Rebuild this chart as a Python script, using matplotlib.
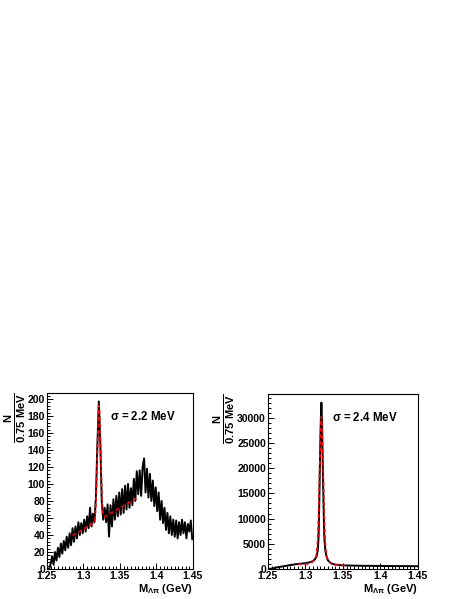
import numpy as np
import matplotlib
matplotlib.use('Agg')
import matplotlib.pyplot as plt
from matplotlib.ticker import MultipleLocator

plt.rcParams['font.family'] = ['Liberation Sans', 'DejaVu Sans']
plt.rcParams['font.weight'] = 'bold'
plt.rcParams['mathtext.fontset'] = 'custom'
plt.rcParams['mathtext.rm'] = 'Liberation Sans:bold'
plt.rcParams['mathtext.bf'] = 'Liberation Sans:bold'
plt.rcParams['mathtext.it'] = 'Liberation Sans:bold'

# left panel: histogram, 2 MeV steps
left_start = 1.251
left_step = 0.002
left_counts = [0, 0, 6, 15, 5, 20, 10, 25, 14, 30,
               18, 33, 22, 38, 25, 42, 28, 48, 32, 50,
               36, 55, 40, 54, 42, 58, 44, 62, 48, 72,
               50, 65, 55, 85, 145, 197, 150, 80, 58, 72,
               55, 76, 38, 75, 50, 82, 58, 86, 62, 90,
               64, 94, 66, 98, 70, 100, 72, 95, 75, 106,
               80, 115, 88, 116, 86, 120, 130, 90, 118, 84,
               112, 80, 104, 74, 96, 68, 90, 58, 80, 54,
               72, 46, 66, 42, 62, 40, 58, 38, 57, 36,
               55, 40, 58, 42, 55, 36, 53, 44, 57, 35]

# left fit: gaussian + linear background
left_fit_range = (1.285, 1.375)
left_mean, left_sigma, left_amp = 1.3212, 0.0022, 135.0
left_bg0, left_bg_slope = 62.0, 500.0   # bg = bg0 + slope*(m - 1.33)

# right panel: high-statistics spectrum
right_mass = [1.250, 1.255, 1.260, 1.265, 1.270, 1.275, 1.280, 1.285, 1.290, 1.295,
              1.300, 1.305, 1.310, 1.3125, 1.3150, 1.3165, 1.3175, 1.3185, 1.3195, 1.3205,
              1.3212, 1.3220, 1.3230, 1.3240, 1.3250, 1.3265, 1.3280, 1.3300, 1.3330, 1.3360,
              1.340, 1.345, 1.350, 1.360, 1.370, 1.380, 1.390, 1.400, 1.420, 1.440, 1.450]
right_counts = [0, 80, 250, 400, 520, 650, 780, 900, 1000, 1080,
                1150, 1300, 1550, 1900, 2600, 3800, 6500, 14000, 23000, 30000,
                33000, 29500, 21000, 13000, 6500, 3600, 2500, 1700, 1250, 1000,
                880, 780, 720, 680, 650, 630, 620, 600, 580, 560, 550]

# right fit: core gaussian + wide gaussian + linear background
right_fit_range = (1.29, 1.355)
right_mean, right_sigma, right_amp = 1.3212, 0.0024, 27150.0
right_wide_sigma, right_wide_amp = 0.007, 2200.0
right_bg0, right_bg_slope = 856.0, -4600.0   # bg = bg0 + slope*(m - 1.3212)

fig = plt.figure(figsize=(4.63, 5.99), dpi=100)
ax1 = fig.add_axes([0.1015, 0.0501, 0.3153, 0.2938])
ax2 = fig.add_axes([0.5788, 0.0501, 0.3240, 0.2921])

# left
centers = left_start + left_step * np.arange(len(left_counts))
ax1.plot(centers, left_counts, color='black', lw=1.4)
m = np.linspace(left_fit_range[0], left_fit_range[1], 400)
fit = left_bg0 + left_bg_slope * (m - 1.33) + left_amp * np.exp(-0.5 * ((m - left_mean) / left_sigma) ** 2)
ax1.plot(m, fit, color='red', lw=1.2, ls=(0, (2.5, 1.5)))
ax1.set_ylim(0, 207)
ax1.yaxis.set_major_locator(MultipleLocator(20))
ax1.yaxis.set_minor_locator(MultipleLocator(4))
ax1.text(0.434, 0.865, r'$\sigma$ = 2.2 MeV', transform=ax1.transAxes,
         fontsize=8.3, fontweight='bold', va='center', ha='left')

# right
ax2.plot(right_mass, right_counts, color='black', lw=1.4)
m = np.linspace(right_fit_range[0], right_fit_range[1], 400)
fit = (right_bg0 + right_bg_slope * (m - right_mean)
       + right_amp * np.exp(-0.5 * ((m - right_mean) / right_sigma) ** 2)
       + right_wide_amp * np.exp(-0.5 * ((m - right_mean) / right_wide_sigma) ** 2))
ax2.plot(m, fit, color='red', lw=1.2, ls=(0, (2.5, 1.5)))
ax2.set_ylim(0, 34700)
ax2.yaxis.set_major_locator(MultipleLocator(5000))
ax2.yaxis.set_minor_locator(MultipleLocator(1000))
ax2.text(0.425, 0.865, r'$\sigma$ = 2.4 MeV', transform=ax2.transAxes,
         fontsize=8.3, fontweight='bold', va='center', ha='left')

for ax in (ax1, ax2):
    ax.set_xlim(1.25, 1.45)
    ax.set_xticks([1.25, 1.3, 1.35, 1.4, 1.45])
    ax.set_xticklabels(['1.25', '1.3', '1.35', '1.4', '1.45'])
    ax.xaxis.set_minor_locator(MultipleLocator(0.005))
    ax.tick_params(which='both', direction='in', top=False, right=False,
                   labelsize=7.5, pad=1.5)
    ax.tick_params(which='major', length=4, width=0.7)
    ax.tick_params(which='minor', length=2, width=0.7)
    for sp in ax.spines.values():
        sp.set_linewidth(0.8)
    for lab in ax.get_xticklabels() + ax.get_yticklabels():
        lab.set_fontweight('bold')
    ax.set_xlabel(r'M$_{\Lambda\pi}$ (GeV)', loc='right', fontsize=8,
                  fontweight='bold', labelpad=1)
    ax.set_ylabel(r'$\frac{N}{0.75\ MeV}$', loc='top', fontsize=11.5,
                  fontweight='bold', labelpad=0)

fig.savefig('out.png', dpi=100)
